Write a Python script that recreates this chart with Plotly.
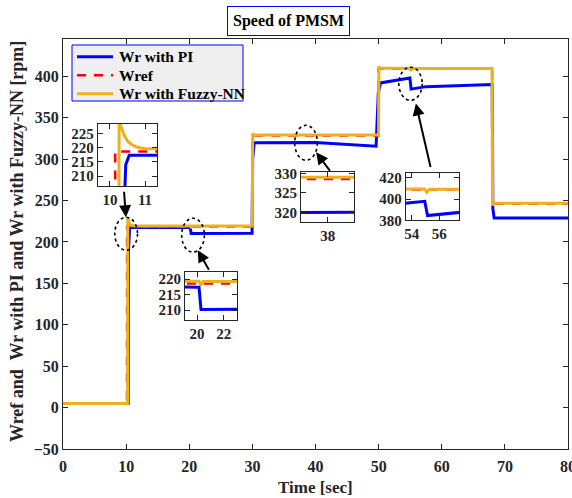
import plotly.graph_objects as go

# ---------------- data ----------------
t_pi = [0, 10.33, 10.38, 10.45, 10.55, 10.8, 20.15, 20.3, 29.95, 30.05, 30.3, 40.0, 45.0, 49.6,
        49.95, 50.3, 54.95, 55.15, 57.5, 68.0, 68.1, 68.3, 80]
w_pi = [5, 5, 190, 214, 217.3, 217.6, 217.4, 210.2, 210.5, 300, 319.8, 320, 318, 315.5,
        380, 392, 398, 384.5, 387.5, 390, 240, 229, 229]

t_ref = [0, 10.14, 10.15, 29.98, 30.0, 49.98, 50.0, 67.98, 68.0, 80]
w_ref = [5, 5, 218.6, 218.6, 328.5, 328.5, 409, 409, 246, 246]

t_fz = [0, 10.24, 10.26, 10.3, 10.4, 10.5, 10.6, 10.76, 11.0, 11.4, 20.15, 20.3, 20.45,
        29.98, 30.05, 30.3, 49.98, 50.05, 50.3, 54.95, 55.1, 55.3, 67.98, 68.05, 68.3, 80]
w_fz = [5, 5, 229, 228, 224.5, 222.3, 221.2, 220.2, 219.6, 219.3, 219.3, 218.0, 219.2,
        219.2, 331, 329, 329, 411.5, 409.6, 409.6, 406.5, 409.4, 409.5, 244, 246.6, 246.6]

series_names = ["Wr with PI", "Wref", "Wr with Fuzzy-NN"]
x_ticks = [0, 10, 20, 30, 40, 50, 60, 70, 80]
y_ticks = [-50, 0, 50, 100, 150, 200, 250, 300, 350, 400]

# inset windows: (x range, y range, x ticks, y ticks)
inset_xrange = [[9.65, 11.35], [19.1, 23.0], [36.6, 39.4], [53.57, 57.45]]
inset_yrange = [[206.5, 228.3], [206.8, 222.3], [317.5, 330.4], [380.0, 425.0]]
inset_xticks = [[10, 11], [20, 22], [38], [54, 56]]
inset_yticks = [[210, 215, 220, 225], [210, 215, 220], [320, 325, 330], [380, 400, 420]]

# ---------------- style ----------------
FONT = "Liberation Serif"
BLUE = "rgb(0,0,255)"
RED = "rgb(255,0,0)"
ORANGE = "rgb(237,177,32)"
AX = "#262626"
COLORS = [BLUE, RED, ORANGE]
DASHES = ["solid", "9px,8px", "solid"]
WIDTHS = [3, 2.5, 3]

W, H = 572, 498
L, R, T, B = 63, 4, 39, 49
PW, PH = W - L - R, H - T - B


def px_x(px):
    return (px - L) / PW


def px_y(py):
    return (H - B - py) / PH


def px2paper(x0, x1, y0, y1):
    return [px_x(x0), px_x(x1)], [px_y(y1), px_y(y0)]


inset_px = [(97.7, 157.3, 124, 186), (185, 237, 272, 320), (301, 354.3, 171.7, 222), (405.7, 459.3, 172.7, 220.3)]

fig = go.Figure()
series = [(t_pi, w_pi), (t_ref, w_ref), (t_fz, w_fz)]
for ax in ["", "2", "3", "4", "5"]:
    for j, (tt, ww) in enumerate(series):
        fig.add_trace(go.Scatter(x=tt, y=ww, mode="lines", name=series_names[j], showlegend=False,
                                 line=dict(color=COLORS[j], width=WIDTHS[j], dash=DASHES[j]),
                                 xaxis="x" + ax, yaxis="y" + ax))

tickfont = dict(family=FONT, size=16, color="#262626", weight="bold")
itickfont = dict(family=FONT, size=15, color="#262626", weight="bold")
common = dict(showline=True, linecolor=AX, linewidth=1, mirror="ticks", ticks="inside",
              ticklen=5, tickcolor=AX, showgrid=False, zeroline=False, automargin=False)

layout = dict(
    width=W, height=H, autosize=False,
    margin=dict(l=L, r=R, t=T, b=B, autoexpand=False),
    paper_bgcolor="white", plot_bgcolor="white",
    showlegend=False,
    xaxis=dict(range=[0, 80], tickvals=x_ticks, domain=[0, 1], anchor="y", tickfont=tickfont,
               ticklabelstandoff=3, ticklabeloverflow="allow", **common),
    yaxis=dict(range=[-50, 445], tickvals=y_ticks, domain=[0, 1], anchor="x", tickfont=tickfont,
               **common),
)

shapes = []
for k in range(4):
    n = str(k + 2)
    dx, dy = px2paper(*inset_px[k])
    layout["xaxis" + n] = dict(range=inset_xrange[k], tickvals=inset_xticks[k], domain=dx,
                               anchor="y" + n, tickfont=itickfont, **common)
    layout["yaxis" + n] = dict(range=inset_yrange[k], tickvals=inset_yticks[k], domain=dy,
                               anchor="x" + n, tickfont=itickfont, **common)
    shapes.append(dict(type="rect", xref="x" + n + " domain", yref="y" + n + " domain",
                       x0=0, x1=1, y0=0, y1=1, fillcolor="#f0f0f0", line=dict(width=0),
                       layer="below"))

# dotted ellipses on the main axes (data coordinates)
ellipses = [(8.2, 11.8, 190, 229.8), (18.8, 22.4, 187.6, 228.6), (36.7, 40.3, 298.6, 340.8),
            (53.2, 56.9, 371, 410.9)]
for x0, x1, y0, y1 in ellipses:
    shapes.append(dict(type="circle", xref="x", yref="y", x0=x0, x1=x1, y0=y0, y1=y1,
                       line=dict(color="black", width=1.6, dash="dot")))

# legend box (drawn by hand for MATLAB-like compact spacing)
shapes.append(dict(type="rect", xref="paper", yref="paper", x0=px_x(72), x1=px_x(243),
                   y0=px_y(101), y1=px_y(45), fillcolor="#efefef", line=dict(color=BLUE, width=1)))
leg_y = [56.7, 75.2, 93.7]
ann = []
for j in range(3):
    shapes.append(dict(type="line", xref="paper", yref="paper", x0=px_x(77), x1=px_x(113),
                       y0=px_y(leg_y[j]), y1=px_y(leg_y[j]),
                       line=dict(color=COLORS[j], width=WIDTHS[j], dash=DASHES[j])))
    ann.append(dict(text=series_names[j], xref="paper", yref="paper", x=px_x(117), y=px_y(leg_y[j]),
                    showarrow=False, xanchor="left", yanchor="middle",
                    font=dict(family=FONT, size=15.5, color="black", weight="bold")))
layout["shapes"] = shapes

arrows = [(9.97, 229.8, -2, -27), (21.35, 190, 12, 21), (40.1, 308.2, 15, 20), (55.9, 367.2, 15, 65)]
for x, y, ax_, ay_ in arrows:
    ann.append(dict(x=x, y=y, xref="x", yref="y", ax=ax_, ay=ay_, showarrow=True, text="",
                    arrowhead=2, arrowsize=1.2, arrowwidth=2, arrowcolor="black"))

ann.append(dict(text="Speed of PMSM", xref="paper", yref="paper", x=px_x(288.8),
                y=px_y(21), showarrow=False, xanchor="center", yanchor="middle",
                font=dict(family=FONT, size=16, color="black", weight="bold"),
                bordercolor=BLUE, borderwidth=1, borderpad=5, bgcolor="white"))
ann.append(dict(text="Time [sec]", xref="paper", yref="paper", x=px_x(315),
                y=px_y(487), showarrow=False, xanchor="center", yanchor="middle",
                font=dict(family=FONT, size=17, color="#262626", weight="bold")))
ann.append(dict(text="Wref and  Wr with PI and Wr with Fuzzy-NN [rpm]", xref="paper", yref="paper",
                x=px_x(17), y=px_y(242), showarrow=False, textangle=-90,
                xanchor="center", yanchor="middle",
                font=dict(family=FONT, size=18, color="#262626", weight="bold")))
layout["annotations"] = ann

fig.update_layout(**layout)
fig.write_html("out.html", config={"displayModeBar": False},
               post_script="document.body.style.margin='0';document.body.style.overflow='hidden';")
